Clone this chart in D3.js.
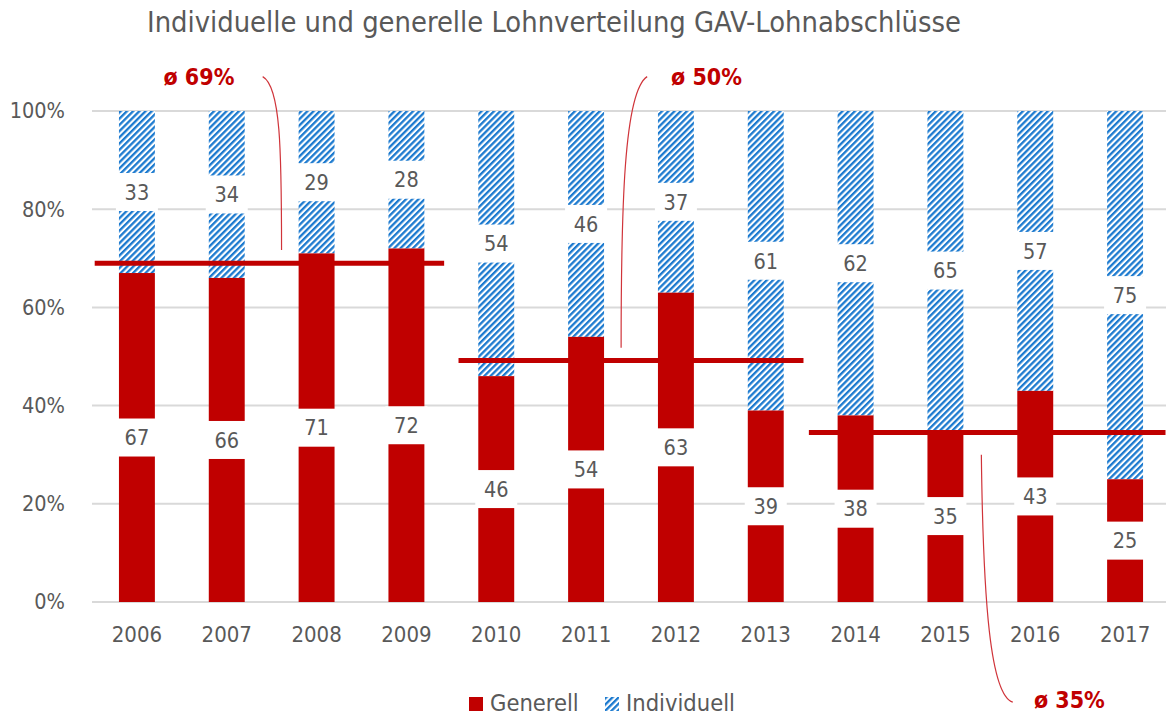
<!DOCTYPE html>
<html>
<head>
<meta charset="utf-8">
<script src="https://cdn.jsdelivr.net/npm/d3@7"></script>
<style>
  html, body { margin: 0; padding: 0; background: #fff; }
  svg { display: block; }
  text { font-family: "Liberation Sans Narrow", "DejaVu Sans Condensed", "Liberation Sans", sans-serif; }
</style>
</head>
<body>
<svg id="chart" width="1166" height="718"></svg>
<script>
  // data
  const years = ['2006', '2007', '2008', '2009', '2010', '2011', '2012', '2013', '2014', '2015', '2016', '2017'];
  const generell = [67, 66, 71, 72, 46, 54, 63, 39, 38, 35, 43, 25];
  const individuell = [33, 34, 29, 28, 54, 46, 37, 61, 62, 65, 57, 75];
  const yTicks = [0, 20, 40, 60, 80, 100];

  // period averages (ø lines): first/last year and drawn level
  const avgFrom = ['2006', '2010', '2014'];
  const avgTo = ['2009', '2013', '2017'];
  const avgLevel = [69, 49.2, 34.5];
  const avgLabels = ['ø 69%', 'ø 50%', 'ø 35%'];

  const W = 1166, H = 718;
  const margin = { left: 92, right: -4, top: 111, bottom: 116 };
  const RED = '#C00000';
  const GREY = '#595959';

  const svg = d3.select('#chart');

  const x = d3.scaleBand()
    .domain(years)
    .range([margin.left, W - margin.right])
    .paddingInner(0.6)
    .paddingOuter(0.3);
  const y = d3.scaleLinear().domain([0, 100]).range([H - margin.bottom, margin.top]);

  const step = x.step();
  const cx = (i) => x(years[0]) + x.bandwidth() / 2 + i * step; // fractional index -> px

  // hatch pattern
  const defs = svg.append('defs');
  const pat = defs.append('pattern')
    .attr('id', 'hatch')
    .attr('patternUnits', 'userSpaceOnUse')
    .attr('width', 4.4)
    .attr('height', 4.4)
    .attr('patternTransform', 'rotate(45)');
  pat.append('rect').attr('width', 4.4).attr('height', 4.4).attr('fill', '#fff');
  pat.append('rect').attr('width', 2.3).attr('height', 4.4).attr('fill', '#1C7ACF');

  // title
  svg.append('text')
    .attr('x', 554)
    .attr('y', 32)
    .attr('text-anchor', 'middle')
    .attr('font-size', 28.8)
    .attr('fill', GREY)
    .text('Individuelle und generelle Lohnverteilung GAV-Lohnabschlüsse');

  // gridlines
  svg.append('g')
    .selectAll('line')
    .data(yTicks)
    .join('line')
    .attr('x1', margin.left)
    .attr('x2', W)
    .attr('y1', (d) => y(d))
    .attr('y2', (d) => y(d))
    .attr('stroke', '#D9D9D9')
    .attr('stroke-width', 2);

  // y axis labels
  const yAxis = svg.append('g')
    .attr('transform', `translate(${margin.left - 24},0)`)
    .call(d3.axisLeft(y).tickValues(yTicks).tickFormat((d) => d + '%').tickSize(0));
  yAxis.select('.domain').remove();
  yAxis.selectAll('text')
    .attr('font-size', 21.5)
    .attr('fill', GREY)
    .attr('font-family', null)
    .attr('dx', 0);

  // x axis labels
  const xAxis = svg.append('g')
    .attr('transform', `translate(0,${H - margin.bottom})`)
    .call(d3.axisBottom(x).tickSize(0).tickPadding(24));
  xAxis.select('.domain').remove();
  xAxis.selectAll('text')
    .attr('font-size', 22)
    .attr('fill', GREY)
    .attr('font-family', null);

  // stacked bars
  const rows = years.map((yr, i) => ({ year: yr, g: generell[i], ind: individuell[i] }));

  svg.append('g')
    .selectAll('rect')
    .data(rows)
    .join('rect')
    .attr('x', (d) => x(d.year))
    .attr('width', x.bandwidth())
    .attr('y', (d) => y(d.g + d.ind))
    .attr('height', (d) => y(d.g) - y(d.g + d.ind))
    .attr('fill', 'url(#hatch)');

  svg.append('g')
    .selectAll('rect')
    .data(rows)
    .join('rect')
    .attr('x', (d) => x(d.year))
    .attr('width', x.bandwidth())
    .attr('y', (d) => y(d.g))
    .attr('height', (d) => y(0) - y(d.g))
    .attr('fill', RED);

  // value labels in white boxes
  const labelData = [];
  rows.forEach((d) => {
    labelData.push({ year: d.year, mid: d.g / 2, v: d.g });
    labelData.push({ year: d.year, mid: d.g + d.ind / 2, v: d.ind });
  });
  const lbl = svg.append('g')
    .selectAll('g')
    .data(labelData)
    .join('g')
    .attr('transform', (d) => `translate(${x(d.year) + x.bandwidth() / 2},${y(d.mid)})`);
  lbl.append('rect')
    .attr('x', -21)
    .attr('y', -19)
    .attr('width', 42)
    .attr('height', 38)
    .attr('fill', '#fff');
  lbl.append('text')
    .attr('text-anchor', 'middle')
    .attr('dy', '0.36em')
    .attr('font-size', 21.5)
    .attr('fill', GREY)
    .text((d) => d.v);

  // average lines
  const avgIdx = avgLevel.map((v, k) => ({
    a: years.indexOf(avgFrom[k]) - 0.47,
    b: years.indexOf(avgTo[k]) + 0.42,
    v,
  }));
  avgIdx[1].a = years.indexOf(avgFrom[1]) - 0.42;
  avgIdx[2].a = years.indexOf(avgFrom[2]) - 0.52;
  avgIdx[2].b = years.indexOf(avgTo[2]) + 0.45;
  svg.append('g')
    .selectAll('line')
    .data(avgIdx)
    .join('line')
    .attr('x1', (d) => cx(d.a))
    .attr('x2', (d) => cx(d.b))
    .attr('y1', (d) => y(d.v))
    .attr('y2', (d) => y(d.v))
    .attr('stroke', RED)
    .attr('stroke-width', 5);

  // annotation leaders + labels
  const notes = [
    { label: avgLabels[0], tx: 0.69, tv: 105.2, path: [[1.40, 107], [1.60, 105], [1.61, 92], [1.61, 71.7]] },
    { label: avgLabels[1], tx: 6.34, tv: 105.2, path: [[5.68, 107], [5.42, 104], [5.39, 80], [5.39, 51.8]] },
    { label: avgLabels[2], tx: 10.38, tv: -21.5, path: [[9.40, 30], [9.42, 0], [9.50, -19], [9.75, -20.4]] },
  ];
  notes.forEach((n) => {
    const p = d3.path();
    const pts = n.path.map(([t, v]) => [cx(t), y(v)]);
    p.moveTo(pts[0][0], pts[0][1]);
    p.bezierCurveTo(pts[1][0], pts[1][1], pts[2][0], pts[2][1], pts[3][0], pts[3][1]);
    svg.append('path')
      .attr('d', p.toString())
      .attr('fill', 'none')
      .attr('stroke', '#D0343A')
      .attr('stroke-width', 1.2);
    svg.append('text')
      .attr('x', cx(n.tx))
      .attr('y', y(n.tv))
      .attr('text-anchor', 'middle')
      .attr('font-size', 23)
      .attr('font-weight', 'bold')
      .attr('fill', RED)
      .text(n.label);
  });

  // legend
  const legendItems = [
    { name: 'Generell', fill: RED },
    { name: 'Individuell', fill: 'url(#hatch)' },
  ];
  const legX = [469, 605];
  const leg = svg.append('g')
    .selectAll('g')
    .data(legendItems)
    .join('g')
    .attr('transform', (d, i) => `translate(${legX[i]},697)`);
  leg.append('rect')
    .attr('width', 14)
    .attr('height', 14)
    .attr('fill', (d) => d.fill);
  leg.append('text')
    .attr('x', 21)
    .attr('y', 14)
    .attr('font-size', 23.5)
    .attr('fill', GREY)
    .text((d) => d.name);
</script>
</body>
</html>
